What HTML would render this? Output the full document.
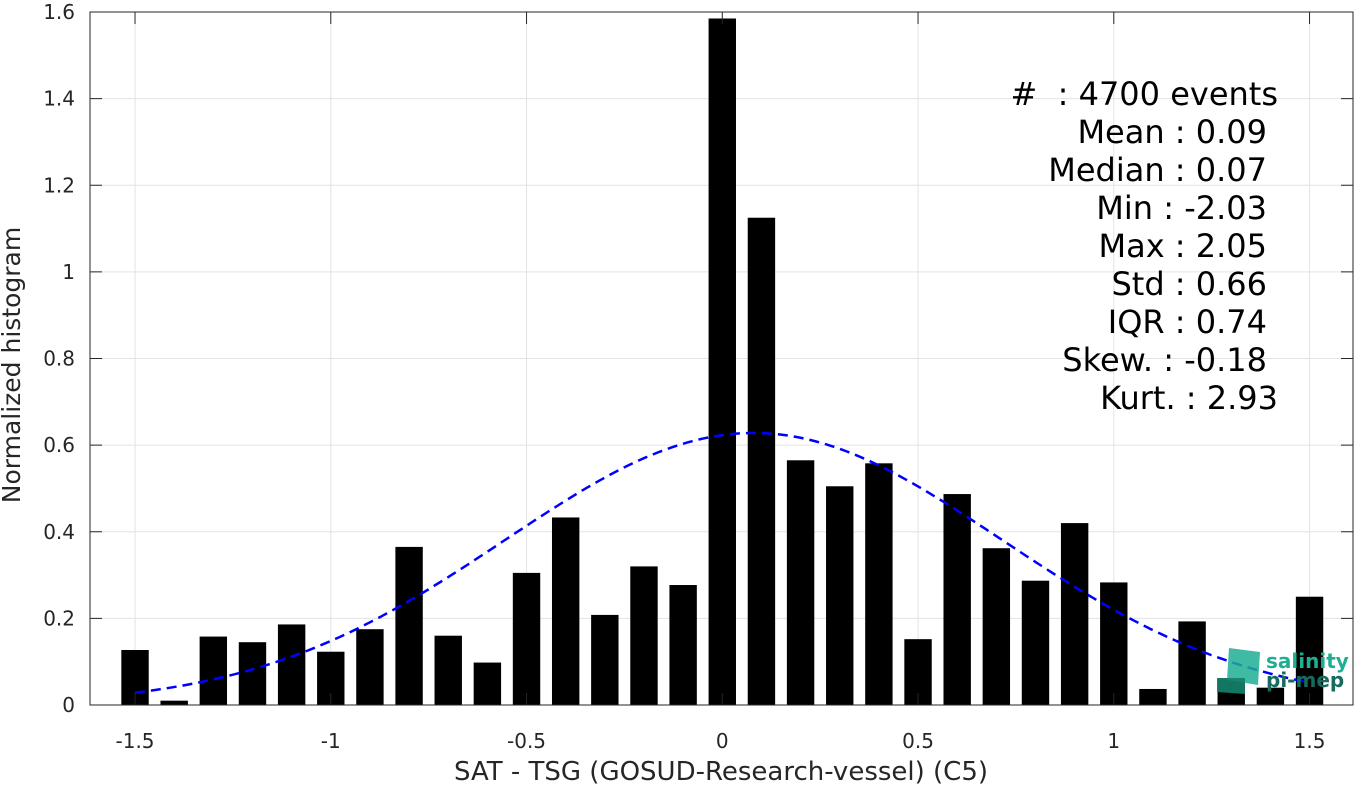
<!DOCTYPE html>
<html><head><meta charset="utf-8"><style>
body{margin:0;background:#fff;width:1367px;height:785px;overflow:hidden;font-family:"Liberation Sans","DejaVu Sans",sans-serif}
text{white-space:pre}
</style></head><body>
<svg id="chart" width="1367" height="785" xmlns="http://www.w3.org/2000/svg" font-family="DejaVu Sans, Liberation Sans, sans-serif"></svg>
<script>
const binCenters=[-1.5,-1.4,-1.3,-1.2,-1.1,-1.0,-0.9,-0.8,-0.7,-0.6,-0.5,-0.4,-0.3,-0.2,-0.1,0,0.1,0.2,0.3,0.4,0.5,0.6,0.7,0.8,0.9,1.0,1.1,1.2,1.3,1.4,1.5];
const binValues=[0.127,0.01,0.158,0.145,0.186,0.123,0.175,0.365,0.16,0.098,0.305,0.433,0.208,0.32,0.277,1.585,1.125,0.565,0.505,0.558,0.152,0.487,0.362,0.287,0.42,0.283,0.037,0.193,0.062,0.04,0.25];
const xTicks=[-1.5,-1,-0.5,0,0.5,1,1.5];
const xTickLabels=["-1.5","-1","-0.5","0","0.5","1","1.5"];
const yTicks=[0,0.2,0.4,0.6,0.8,1,1.2,1.4,1.6];
const yTickLabels=["0","0.2","0.4","0.6","0.8","1","1.2","1.4","1.6"];
const fitMean=0.08, fitSigma=0.635, fitPeak=0.628;
const statsLines=["#  : 4700 events","Mean : 0.09","Median : 0.07","Min : -2.03","Max : 2.05","Std : 0.66","IQR : 0.74","Skew. : -0.18","Kurt. : 2.93"];

const L=90,R=1353,T=12,B=705;
const xMin=-1.615,xMax=1.611,yMin=0,yMax=1.6;
const X=v=>L+(v-xMin)/(xMax-xMin)*(R-L);
const Y=v=>B-(v-yMin)/(yMax-yMin)*(B-T);
const svg=document.getElementById('chart');
const NS="http://www.w3.org/2000/svg";
function mk(tag,attrs,parent){const e=document.createElementNS(NS,tag);for(const k in attrs)e.setAttribute(k,attrs[k]);(parent||svg).appendChild(e);return e;}

const grid=mk('g',{});


xTicks.forEach(t=>mk('line',{x1:X(t),x2:X(t),y1:T,y2:B,stroke:'#e3e3e3','stroke-width':1},grid));
yTicks.forEach(t=>mk('line',{x1:L,x2:R,y1:Y(t),y2:Y(t),stroke:'#e3e3e3','stroke-width':1},grid));

const bars=mk('g',{});


const bw=0.07;
binCenters.forEach((c,i)=>{
  const r=mk('rect',{x:X(c-bw/2),y:Y(binValues[i]),width:X(c+bw/2)-X(c-bw/2),height:Y(0)-Y(binValues[i]),fill:'#000'},bars);
  
  
});

let d='';
for(let i=0;i<=200;i++){const x=-1.5+3*i/200;const y=fitPeak*Math.exp(-Math.pow(x-fitMean,2)/(2*fitSigma*fitSigma));d+=(i?'L':'M')+X(x).toFixed(1)+','+Y(y).toFixed(1);}
const fit=mk('path',{d:d,fill:'none',stroke:'#0000ff','stroke-width':2.5,'stroke-dasharray':'10,6'});



const box=mk('rect',{x:L,y:T,width:R-L,height:B-T,fill:'none',stroke:'#262626','stroke-width':1});



const xt=mk('g',{'font-size':20,fill:'#262626','text-anchor':'middle'});


xTicks.forEach((t,i)=>{
  mk('line',{x1:X(t),x2:X(t),y1:B,y2:B-12,stroke:'#262626'},xt);
  mk('line',{x1:X(t),x2:X(t),y1:T,y2:T+12,stroke:'#262626'},xt);
  const tx=mk('text',{x:X(t),y:B+43},xt);tx.textContent=xTickLabels[i];
});
const yt=mk('g',{'font-size':20,fill:'#262626','text-anchor':'end'});


yTicks.forEach((t,i)=>{
  mk('line',{x1:L,x2:L+12,y1:Y(t),y2:Y(t),stroke:'#262626'},yt);
  mk('line',{x1:R,x2:R-12,y1:Y(t),y2:Y(t),stroke:'#262626'},yt);
  const tx=mk('text',{x:L-15,y:Y(t)+7},yt);tx.textContent=yTickLabels[i];
});

const xl=mk('text',{x:721,y:780,'font-size':26,fill:'#262626','text-anchor':'middle'});
xl.textContent='SAT - TSG (GOSUD-Research-vessel) (C5)';


const yl=mk('text',{x:0,y:0,'font-size':25,fill:'#262626','text-anchor':'middle',transform:'translate(20,365) rotate(-90)'});
yl.textContent='Normalized histogram';



const st=mk('g',{'font-size':32,fill:'#000','text-anchor':'end'});


statsLines.forEach((s,i)=>{const t=mk('text',{x:(i==0||i==8)?1278:1267,y:105+i*38},st);t.textContent=s;});

const lg=mk('g',{});


mk('polygon',{points:'1229,648 1260,652 1258,685 1227,680',fill:'#1fae94',opacity:0.85},lg);
mk('polygon',{points:'1217,678 1245,678 1245,694 1217,692',fill:'#15836e',opacity:0.9},lg);
const t1=mk('text',{x:1266,y:668,'font-size':20,'font-weight':'bold',fill:'#1fae94'},lg);t1.textContent='salinity';
const t2=mk('text',{x:1266,y:687,'font-size':20,'font-weight':'bold',fill:'#166a5e'},lg);t2.textContent='pi-mep';
</script>
</body></html>
